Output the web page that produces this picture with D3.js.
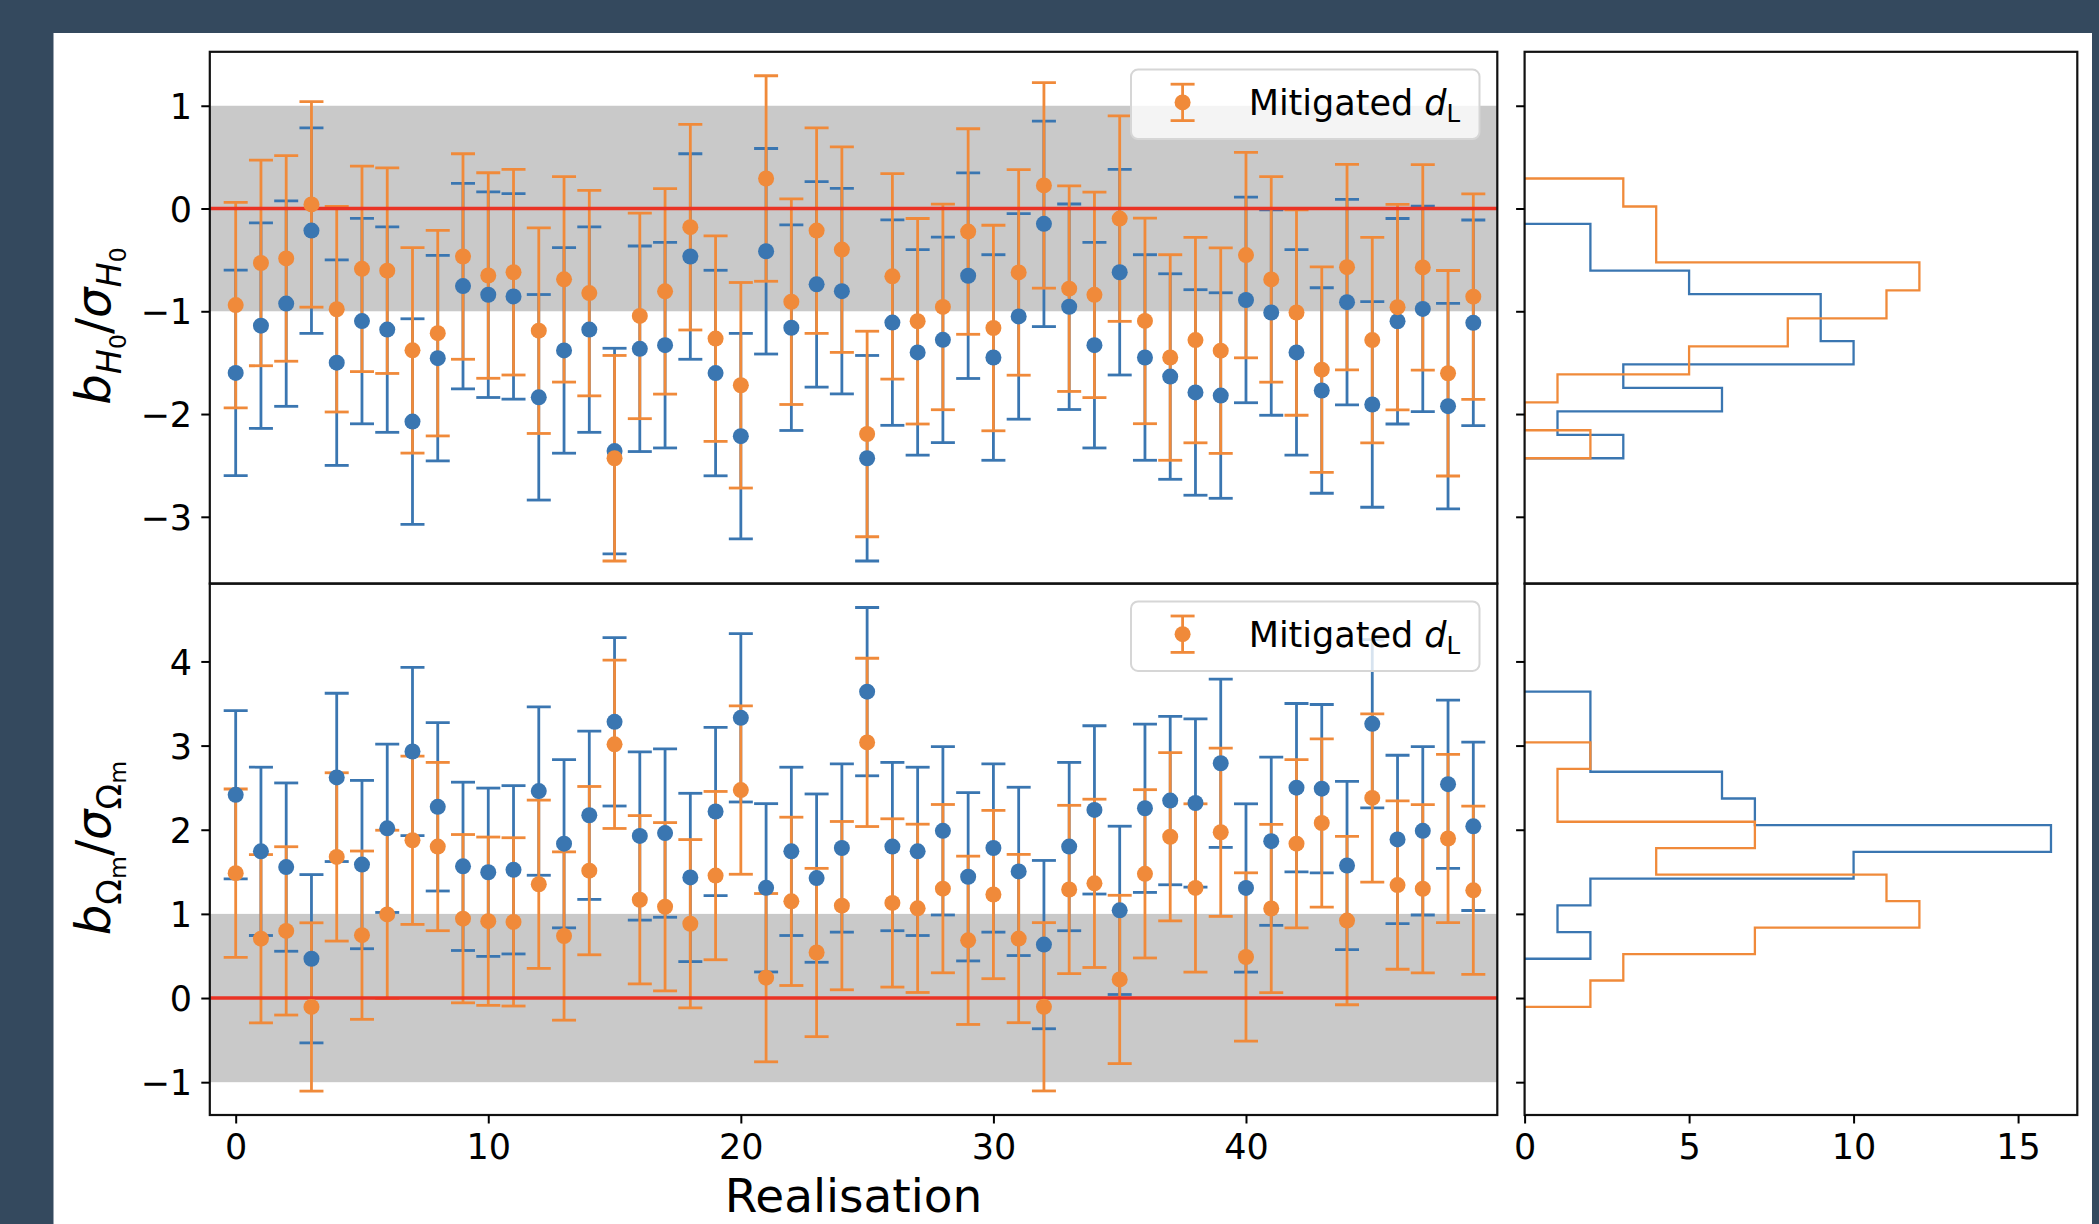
<!DOCTYPE html>
<html><head><meta charset="utf-8">
<script src="https://cdn.jsdelivr.net/npm/d3@7"></script>
<style>body{margin:0;background:#34495e;} svg{display:block}</style>
</head><body><svg id="c" width="2099" height="1224"></svg>
<script>
// ---------------- data ----------------
const realisation = [0,1,2,3,4,5,6,7,8,9,10,11,12,13,14,15,16,17,18,19,20,21,22,23,24,25,26,27,28,29,30,31,32,33,34,35,36,37,38,39,40,41,42,43,44,45,46,47,48,49];
// b_H0 / sigma_H0
const h0Blue = [-1.60,-1.14,-0.925,-0.215,-1.50,-1.095,-1.178,-2.073,-1.456,-0.755,-0.839,-0.855,-1.837,-1.381,-1.178,-2.36,-1.365,-1.33,-0.467,-1.601,-2.215,-0.416,-1.16,-0.738,-0.804,-2.43,-1.11,-1.40,-1.278,-0.654,-1.45,-1.05,-0.149,-0.956,-1.33,-0.62,-1.45,-1.635,-1.79,-1.82,-0.89,-1.012,-1.40,-1.771,-0.911,-1.907,-1.097,-0.977,-1.923,-1.112];
const h0Orange = [-0.94,-0.53,-0.486,0.04,-0.98,-0.587,-0.605,-1.38,-1.213,-0.467,-0.652,-0.62,-1.189,-0.689,-0.823,-2.43,-1.045,-0.806,-0.182,-1.266,-1.72,0.292,-0.907,-0.215,-0.40,-2.194,-0.66,-1.097,-0.958,-0.224,-1.163,-0.622,0.225,-0.78,-0.84,-0.098,-1.094,-1.45,-1.28,-1.383,-0.453,-0.69,-1.012,-1.568,-0.571,-1.28,-0.96,-0.573,-1.603,-0.858];
// b_Om / sigma_Om
const omBlue = [2.415,1.743,1.556,0.467,2.622,1.586,2.017,2.93,2.272,1.565,1.495,1.524,2.459,1.834,2.172,3.282,1.926,1.96,1.433,2.217,3.33,1.31,1.743,1.425,1.783,3.641,1.80,1.743,1.987,1.441,1.783,1.505,0.635,1.80,2.236,1.042,2.255,2.346,2.318,2.79,1.308,1.864,2.50,2.488,1.575,3.259,1.885,1.987,2.541,2.04];
const omOrange = [1.484,0.705,0.798,-0.106,1.677,0.747,0.994,1.875,1.80,0.943,0.913,0.905,1.352,0.737,1.514,3.015,1.168,1.085,0.883,1.455,2.471,0.242,1.149,0.541,1.098,3.038,1.13,1.066,1.30,0.686,1.23,0.707,-0.104,1.29,1.363,0.221,1.476,1.917,1.308,1.97,0.488,1.064,1.834,2.08,0.92,2.378,1.342,1.299,1.896,1.28];
const errorSigma = 1;            // every error bar is +/- 1 sigma
const histBins = 10;
const xTicksMain = [0,10,20,30,40];
const xTicksHist = [0,5,10,15];
const yTicksTop = [-3,-2,-1,0,1];
const yTicksBot = [-1,0,1,2,3,4];
const legendLabel = "Mitigated ";

// ---------------- layout ----------------
const W = 2099, H = 1224;
const BLUE = "#3a76b1", ORANGE = "#f08a3a", RED = "#ea3325", BAND = "#c9c9c9";
const FONT = "DejaVu Sans";
const mainX0 = 209.8, mainX1 = 1497.3, histX0 = 1524.6, histX1 = 2077.3;
const topY0 = 51.8, midY = 583.6, botY1 = 1115;
const tickFs = 35, labelFs = 48;
const intFmt = d3.format("d");

const svg = d3.select("#c");
svg.append("rect").attr("width", W).attr("height", H).attr("fill", "#34495e");
svg.append("rect").attr("x", 53.5).attr("y", 33).attr("width", 2092 - 53.5).attr("height", H).attr("fill", "#fff");

const x = d3.scaleLinear().domain([-1.025, 49.95]).range([mainX0, mainX1]);
const hx = d3.scaleLinear().domain([0, 16.8]).range([histX0, histX1]);
const yTop = d3.scaleLinear().domain([-3.65, 1.525]).range([midY, topY0]);
const yBot = d3.scaleLinear().domain([-1.39, 4.925]).range([botY1, midY]);

const defs = svg.append("defs");
function clip(id, x0, y0, x1, y1) {
  defs.append("clipPath").attr("id", id).append("rect")
    .attr("x", x0).attr("y", y0).attr("width", x1 - x0).attr("height", y1 - y0);
  return "url(#" + id + ")";
}

function styleAxis(g) {
  g.select(".domain").remove();
  g.selectAll(".tick line").attr("stroke", "#000").attr("stroke-width", 2);
  g.selectAll(".tick text").attr("font-family", FONT).attr("font-size", tickFs).attr("fill", "#000");
}

function histogram(values) {
  const [lo, hi] = d3.extent(values);
  const w = (hi - lo) / histBins;
  const counts = new Array(histBins).fill(0);
  values.forEach(v => { let k = Math.floor((v - lo) / w); if (k >= histBins) k = histBins - 1; counts[k]++; });
  const pts = [[0, lo]];
  counts.forEach((c, k) => { pts.push([c, lo + k * w]); pts.push([c, lo + (k + 1) * w]); });
  pts.push([0, hi]);
  return pts;
}

function legend(axRight, axTop) {
  const bw = 348.5, bh = 69.5;
  const bx = axRight - 17.8 - bw, by = axTop + 17.8;
  const g = svg.append("g");
  g.append("rect").attr("x", bx).attr("y", by).attr("width", bw).attr("height", bh)
    .attr("rx", 7).attr("fill", "#fff").attr("fill-opacity", 0.8)
    .attr("stroke", "#d6d6d6").attr("stroke-width", 2);
  const hxp = bx + 51.6, hcy = by + 32.8;
  g.append("line").attr("x1", hxp).attr("x2", hxp).attr("y1", hcy - 18.2).attr("y2", hcy + 18.2)
    .attr("stroke", ORANGE).attr("stroke-width", 2.8);
  [-18.2, 18.2].forEach(d => g.append("line").attr("x1", hxp - 12).attr("x2", hxp + 12)
    .attr("y1", hcy + d).attr("y2", hcy + d).attr("stroke", ORANGE).attr("stroke-width", 2.8));
  g.append("circle").attr("cx", hxp).attr("cy", hcy).attr("r", 8).attr("fill", ORANGE);
  const t = g.append("text").attr("x", bx + 117.7).attr("y", by + 45.4)
    .attr("font-family", FONT).attr("font-size", tickFs).attr("fill", "#000");
  t.append("tspan").text(legendLabel);
  t.append("tspan").attr("font-style", "italic").text("d");
  t.append("tspan").attr("font-size", tickFs * 0.7).attr("dy", 7).text("L");
}

function ylabel(cx, cy, sub, subItalic, subsub) {
  const t = svg.append("text").attr("transform", `translate(${cx},${cy}) rotate(-90)`)
    .attr("text-anchor", "middle").attr("font-family", FONT).attr("font-size", labelFs).attr("fill", "#000");
  const part = (main) => {
    t.append("tspan").attr("font-style", "italic").attr("font-size", labelFs).text(main);
    t.append("tspan").attr("font-style", subItalic ? "italic" : "normal").attr("font-size", labelFs * 0.7).attr("dy", 11).text(sub);
    t.append("tspan").attr("font-style", "normal").attr("font-size", labelFs * 0.49).attr("dy", 5).text(subsub);
  };
  part("b");
  t.append("tspan").attr("font-size", labelFs).attr("dy", -16).text("/");
  part("σ");
}

const panels = [
  { id: "top", blue: h0Blue, orange: h0Orange, y: yTop, y0: topY0, y1: midY, ticks: yTicksTop },
  { id: "bot", blue: omBlue, orange: omOrange, y: yBot, y0: midY, y1: botY1, ticks: yTicksBot }
];

panels.forEach(p => {
  const y = p.y;
  // main axes
  const g = svg.append("g").attr("clip-path", clip("clip-" + p.id, mainX0, p.y0, mainX1, p.y1));
  g.append("rect").attr("x", mainX0).attr("width", mainX1 - mainX0)
    .attr("y", y(1)).attr("height", y(-1) - y(1)).attr("fill", BAND);
  [[p.blue, BLUE], [p.orange, ORANGE]].forEach(([vals, col]) => {
    const s = g.append("g").attr("stroke", col).attr("stroke-width", 2.8);
    s.selectAll("line.bar").data(realisation).join("line")
      .attr("x1", i => x(i)).attr("x2", i => x(i))
      .attr("y1", i => y(vals[i] - errorSigma)).attr("y2", i => y(vals[i] + errorSigma));
    [-1, 1].forEach(sg => s.selectAll("line.cap" + sg).data(realisation).enter().append("line")
      .attr("x1", i => x(i) - 12).attr("x2", i => x(i) + 12)
      .attr("y1", i => y(vals[i] + sg * errorSigma)).attr("y2", i => y(vals[i] + sg * errorSigma)));
  });
  g.append("line").attr("x1", mainX0).attr("x2", mainX1).attr("y1", y(0)).attr("y2", y(0))
    .attr("stroke", RED).attr("stroke-width", 3.5);
  [[p.blue, BLUE], [p.orange, ORANGE]].forEach(([vals, col]) => {
    g.append("g").selectAll("circle").data(realisation).join("circle")
      .attr("cx", i => x(i)).attr("cy", i => y(vals[i])).attr("r", 8).attr("fill", col);
  });
  svg.append("rect").attr("x", mainX0).attr("y", p.y0).attr("width", mainX1 - mainX0).attr("height", p.y1 - p.y0)
    .attr("fill", "none").attr("stroke", "#111").attr("stroke-width", 2.2);
  const ay = svg.append("g").attr("transform", `translate(${mainX0},0)`)
    .call(d3.axisLeft(y).tickValues(p.ticks).tickFormat(intFmt).tickSize(8.5).tickPadding(9.3).tickSizeOuter(0));
  styleAxis(ay);
  ay.selectAll(".tick text").attr("dy", "0.36em");

  // histogram axes
  const hg = svg.append("g").attr("clip-path", clip("hclip-" + p.id, histX0, p.y0, histX1, p.y1));
  const line = d3.line().x(d => hx(d[0])).y(d => y(d[1]));
  [[p.blue, BLUE], [p.orange, ORANGE]].forEach(([vals, col]) => {
    hg.append("path").attr("d", line(histogram(vals))).attr("fill", "none")
      .attr("stroke", col).attr("stroke-width", 2.3);
  });
  svg.append("rect").attr("x", histX0).attr("y", p.y0).attr("width", histX1 - histX0).attr("height", p.y1 - p.y0)
    .attr("fill", "none").attr("stroke", "#111").attr("stroke-width", 2.2);
  const hy = svg.append("g").attr("transform", `translate(${histX0},0)`)
    .call(d3.axisLeft(y).tickValues(p.ticks).tickSize(8.5).tickFormat("").tickSizeOuter(0));
  styleAxis(hy);

  legend(mainX1, p.y0);
});

// bottom x axes
const ax = svg.append("g").attr("transform", `translate(0,${botY1})`)
  .call(d3.axisBottom(x).tickValues(xTicksMain).tickFormat(intFmt).tickSize(8.5).tickPadding(10.5).tickSizeOuter(0));
styleAxis(ax);
const ahx = svg.append("g").attr("transform", `translate(0,${botY1})`)
  .call(d3.axisBottom(hx).tickValues(xTicksHist).tickFormat(intFmt).tickSize(8.5).tickPadding(10.5).tickSizeOuter(0));
styleAxis(ahx);

svg.append("text").attr("x", (mainX0 + mainX1) / 2).attr("y", 1212).attr("text-anchor", "middle")
  .attr("font-family", FONT).attr("font-size", 47).attr("fill", "#000").text("Realisation");

ylabel(110, 326, "H", true, "0");
ylabel(110, 848, "Ω", false, "m");
</script>
</body></html>
